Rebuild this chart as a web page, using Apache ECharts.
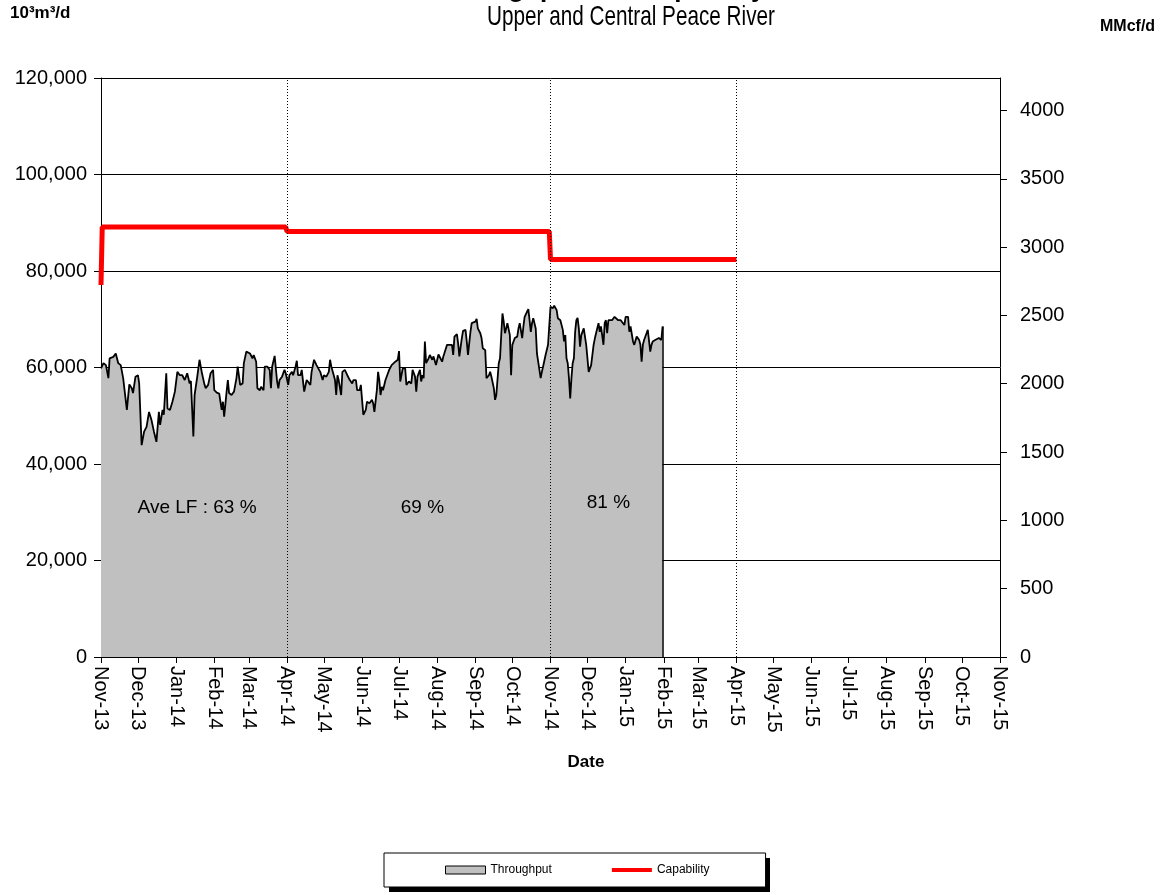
<!DOCTYPE html>
<html>
<head>
<meta charset="utf-8">
<script src="https://cdn.jsdelivr.net/npm/echarts@6/dist/echarts.min.js"></script>
<style>
  html, body { margin: 0; padding: 0; background: #fff; }
  #chart { width: 1169px; height: 895px; }
</style>
</head>
<body>
<div id="chart"></div>
<script>
// days counted from 1 Nov 2013
const startDate = Date.UTC(2013, 10, 1)
const DAY = 86400000
const months = ['Jan', 'Feb', 'Mar', 'Apr', 'May', 'Jun', 'Jul', 'Aug', 'Sep', 'Oct', 'Nov', 'Dec']

// daily throughput, 10^3 m3/d
const throughputDay = [
  0, 2, 4, 6, 7, 10, 12, 14, 16, 18, 21, 23, 25, 26, 28, 30, 31, 33, 35, 37, 39, 41, 43, 45, 47, 48, 50, 51, 53, 54,
  56, 58, 60, 62, 64, 66, 68, 70, 72, 73, 75, 76, 78, 80, 82, 84, 85, 87, 89, 91,
  92, 94, 96, 97, 98, 99, 100, 102, 103, 104, 105, 106, 108, 110, 111, 113, 115, 116, 118, 119, 121, 123, 124, 126, 127,
  129, 130, 132, 133, 135, 137, 138, 139, 141, 143, 144, 145, 147, 149, 150, 152, 153, 155, 156, 158, 159, 160, 162, 163,
  165, 167, 168, 170, 171, 173, 175, 176, 178, 180, 181,
  183, 185, 186, 187, 189, 190, 191, 192, 193, 195, 196, 198, 200, 201, 202, 203, 204, 205, 207, 208, 210, 211, 212, 213,
  215, 216, 218, 220, 221, 222, 224, 225, 226, 227, 228, 229, 231, 233, 234, 236, 237, 239, 241, 242, 243, 244, 245, 247,
  248, 250, 252, 253, 255, 256, 257, 259, 260, 261, 262, 263, 264, 266, 267, 269, 270,
  272, 274, 275, 277, 278, 279, 281, 282, 283, 285, 286, 287, 289, 290, 291, 293, 294, 296, 297, 298, 300, 301, 302, 304,
  305, 306, 308, 309, 310, 312, 313, 315, 316, 317, 319, 320, 321, 323, 324, 325, 326, 327, 328, 329, 330, 332, 333, 334,
  335, 336, 338, 339, 340, 342, 343, 344, 346, 347, 348, 349, 350, 351, 352, 353, 354, 355, 357, 358, 359, 361,
  362, 363, 365, 366, 367, 368, 369, 370, 371, 373, 374, 375, 376, 377, 378, 379, 380, 381, 382, 383, 384, 385, 386, 387,
  388, 389, 390, 392, 393, 394, 396, 397, 398, 400, 401, 402, 404, 405, 406, 407, 408, 409, 410, 411, 412, 413, 415, 417,
  418, 420, 422, 423, 425, 426, 427, 428, 429, 430, 432, 433, 435, 437, 438, 439, 440, 441, 443, 444, 446, 447, 448, 450,
  451, 453, 455, 456
]
const throughputVal = [
  59800, 60900, 60500, 57800, 61900, 62200, 62900, 60900, 60500, 57800, 51200, 56500, 55700, 54700, 58100, 58400, 56700, 43900, 46700, 47700, 50800, 49100, 46700, 44600, 50800, 48100, 51200, 50200, 58800, 51500,
  51200, 52900, 55000, 59100, 58400, 58400, 57400, 58800, 56700, 57200, 45700, 54300, 57800, 61600, 58800, 56500, 55700, 56400, 58800, 59500,
  55300, 54800, 54600, 52900, 51200, 52900, 49800, 55000, 57400, 54700, 55000, 54300, 55000, 57800, 60200, 56400, 56700, 60900, 63300, 63600, 62900, 61900, 62600, 61200, 55700,
  55300, 56000, 55300, 60200, 60200, 59500, 55700, 60200, 62400, 57100, 55700, 57400, 58100, 59500, 58800, 56400, 58400, 59100, 58400, 60200, 61400, 58400, 58400, 59500,
  55000, 57400, 57100, 56400, 59100, 61600, 60500, 60200, 59100, 57400, 58400,
  58100, 59100, 61600, 60200, 58400, 57400, 54300, 58400, 57400, 54300, 59100, 59500, 58400, 58800, 57400, 57800, 56700, 57400, 57400, 55300, 55300, 56400, 53300, 50200,
  51200, 52900, 52600, 53300, 52600, 50800, 55300, 59100, 57400, 54300, 56000, 55300, 57400, 58800, 59500, 60500, 60900, 61200, 61600, 63400, 57100, 57400, 59800, 59800,
  56400, 57100, 56700, 59500, 58100, 55000, 58100, 59500, 57100, 58400, 57800, 65400, 60900, 61900, 62600, 61600, 62300,
  60500, 62700, 62300, 61200, 62300, 61900, 64700, 65000, 64700, 64700, 62600, 66400, 66900, 65000, 62300, 66100, 67600, 67800, 65400, 62600, 67400, 69200, 69600, 69500,
  70100, 68100, 67100, 66100, 64000, 63600, 57800, 58400, 59100, 58100, 55700, 53300, 54300, 60900, 61900, 66700, 71200, 69500, 67100, 68100, 69200, 66700, 58400, 64700,
  65400, 66100, 66400, 68100, 69200, 66100, 68500, 70500, 71600, 72100, 69800, 67400, 69200, 70200, 70200, 68100, 62900, 61200, 57800, 59100, 60200, 62600,
  62900, 64700, 72600, 72900, 72300, 72800, 72600, 71900, 70200, 69800, 69500, 67800, 65400, 66700, 61900, 60900, 57800, 53600, 57800, 60900, 61900, 67400, 69800, 70300,
  68100, 64300, 66700, 68100, 67800, 64700, 59100, 58800, 60500, 64700, 66000, 67100, 69200, 67400, 68500, 68800, 64700, 69200, 69800, 67100, 69800, 70200, 69800, 70500,
  70900, 69800, 69800, 69500, 68800, 70500, 70200, 70500, 67400, 68500, 65400, 64700, 66400, 65700, 64700, 61200, 64700, 65700, 67100, 67800, 63300, 64700, 65400, 65700,
  65400, 66100, 65700, 68500
]

// capability, 10^3 m3/d (flat between these days)
const capabilityDay = [0, 1, 150, 151, 364, 365, 516]
const capabilityVal = [77100, 89100, 89100, 88200, 88200, 82400, 82400]

// dotted period boundaries
const periodStarts = ['2014-04-01', '2014-11-01', '2015-04-01']

// average load factor notes
const lfText = ['Ave LF : 63 %', '69 %', '81 %']
const lfDay = [78, 261, 412]
const lfVal = [30900, 30900, 31900]

const leftMax = 120000
const leftInterval = 20000
const mmcfPerE3m3 = 0.0353147
const rightTicks = [0, 500, 1000, 1500, 2000, 2500, 3000, 3500, 4000]

const dayOf = (s) => (Date.parse(s) - startDate) / DAY
const monthTicks = []
for (let i = 0; i <= 24; i++) monthTicks.push((Date.UTC(2013, 10 + i, 1) - startDate) / DAY)

const fontFamily = '"Liberation Sans", Arial, sans-serif'
const lastDay = throughputDay[throughputDay.length - 1]
const lastVal = throughputVal[throughputVal.length - 1]

const chart = echarts.init(document.getElementById('chart'))
const option = {
  animation: false,
  backgroundColor: '#fff',
  textStyle: { fontFamily: fontFamily, color: '#000' },
  grid: { left: 101, right: 169, top: 78, bottom: 238, containLabel: false },
  graphic: [
    {
      // title sits mostly above the page edge, only descenders show
      type: 'text', x: 600, y: 3,
      style: { text: 'Throughput and Capability', font: 'bold 26px ' + fontFamily, fill: '#000', textAlign: 'center', textVerticalAlign: 'bottom' }
    },
    {
      type: 'text', x: 631, y: 3, scaleX: 0.74,
      style: { text: 'Upper and Central Peace River', font: '28px ' + fontFamily, fill: '#000', textAlign: 'center', textVerticalAlign: 'top' }
    },
    {
      type: 'text', x: 10, y: 5,
      style: { text: '10³m³/d', font: 'bold 17px ' + fontFamily, fill: '#000' }
    },
    {
      type: 'text', x: 1100, y: 19,
      style: { text: 'MMcf/d', font: 'bold 16px ' + fontFamily, fill: '#000' }
    },
    {
      type: 'text', x: 586, y: 762,
      style: { text: 'Date', font: 'bold 17px ' + fontFamily, fill: '#000', textAlign: 'center', textVerticalAlign: 'middle' }
    },
    {
      // legend drop shadow
      type: 'rect', z: -1,
      shape: { x: 389, y: 858, width: 381, height: 34 },
      style: { fill: '#000' }
    }
  ],
  legend: {
    left: 384,
    top: 853,
    padding: [11, 56, 11, 61],
    itemGap: 60,
    itemWidth: 40,
    itemHeight: 8,
    backgroundColor: '#fff',
    borderColor: '#000',
    borderWidth: 1,
    borderRadius: 0,
    textStyle: { fontSize: 12, color: '#000', fontFamily: fontFamily },
    data: [
      { name: 'Throughput', icon: 'rect', itemStyle: { color: '#c0c0c0', borderColor: '#000', borderWidth: 1 } },
      { name: 'Capability', icon: 'path://M0,0h40v4h-40z', itemStyle: { color: '#ff0000', borderWidth: 0 } }
    ]
  },
  xAxis: {
    type: 'value',
    min: 0,
    max: monthTicks[monthTicks.length - 1],
    axisLine: { show: true, lineStyle: { color: '#000', width: 1 } },
    axisTick: { show: true, customValues: monthTicks, length: 6, lineStyle: { color: '#000' } },
    axisLabel: {
      customValues: monthTicks,
      rotate: -90,
      margin: 9,
      fontSize: 20,
      color: '#000',
      fontFamily: fontFamily,
      formatter: (v) => {
        const d = new Date(startDate + Math.round(v) * DAY)
        return months[d.getUTCMonth()] + '-' + String(d.getUTCFullYear()).slice(2)
      }
    },
    splitLine: { show: false }
  },
  yAxis: [
    {
      type: 'value',
      position: 'left',
      min: 0,
      max: leftMax,
      interval: leftInterval,
      axisLine: { show: true, lineStyle: { color: '#000' } },
      axisTick: { show: true, length: 7, lineStyle: { color: '#000' } },
      axisLabel: {
        margin: 14, fontSize: 20, color: '#000', fontFamily: fontFamily,
        formatter: (v) => v.toLocaleString('en-US')
      },
      splitLine: { show: true, lineStyle: { color: '#000', width: 1 } }
    },
    {
      type: 'value',
      position: 'right',
      min: 0,
      max: leftMax * mmcfPerE3m3,
      alignTicks: false,
      axisLine: { show: true, lineStyle: { color: '#000' } },
      axisTick: { show: true, customValues: rightTicks, length: 7, lineStyle: { color: '#000' } },
      axisLabel: {
        customValues: rightTicks, margin: 20, fontSize: 20, color: '#000', fontFamily: fontFamily,
        formatter: (v) => String(Math.round(v))
      },
      splitLine: { show: false }
    }
  ],
  series: [
    {
      name: 'Throughput',
      type: 'line',
      yAxisIndex: 0,
      symbol: 'none',
      showSymbol: false,
      color: '#c0c0c0',
      lineStyle: { color: '#000', width: 1.8 },
      areaStyle: { color: '#c0c0c0', opacity: 1 },
      data: throughputDay.map((d, i) => [d, throughputVal[i]]),
      markLine: {
        silent: true,
        symbol: 'none',
        label: { show: false },
        lineStyle: { color: '#000', width: 1.5, type: 'solid' },
        data: [[{ coord: [lastDay, 0] }, { coord: [lastDay, lastVal] }]]
      },
      markPoint: {
        symbol: 'circle',
        symbolSize: 1,
        silent: true,
        itemStyle: { color: 'rgba(0,0,0,0)' },
        label: {
          show: true, position: 'inside', fontSize: 19, color: '#000', fontFamily: fontFamily,
          formatter: (p) => p.name
        },
        data: lfText.map((t, i) => ({ name: t, coord: [lfDay[i], lfVal[i]] }))
      }
    },
    {
      name: 'Capability',
      type: 'line',
      yAxisIndex: 0,
      symbol: 'none',
      showSymbol: false,
      color: '#ff0000',
      lineStyle: { color: '#ff0000', width: 5 },
      data: capabilityDay.map((d, i) => [d, capabilityVal[i]]),
      markLine: {
        silent: true,
        symbol: 'none',
        label: { show: false },
        lineStyle: { color: '#000', width: 1, type: [1, 2] },
        data: periodStarts.map((s) => ({ xAxis: dayOf(s) }))
      }
    }
  ]
}
chart.setOption(option)
</script>
</body>
</html>
